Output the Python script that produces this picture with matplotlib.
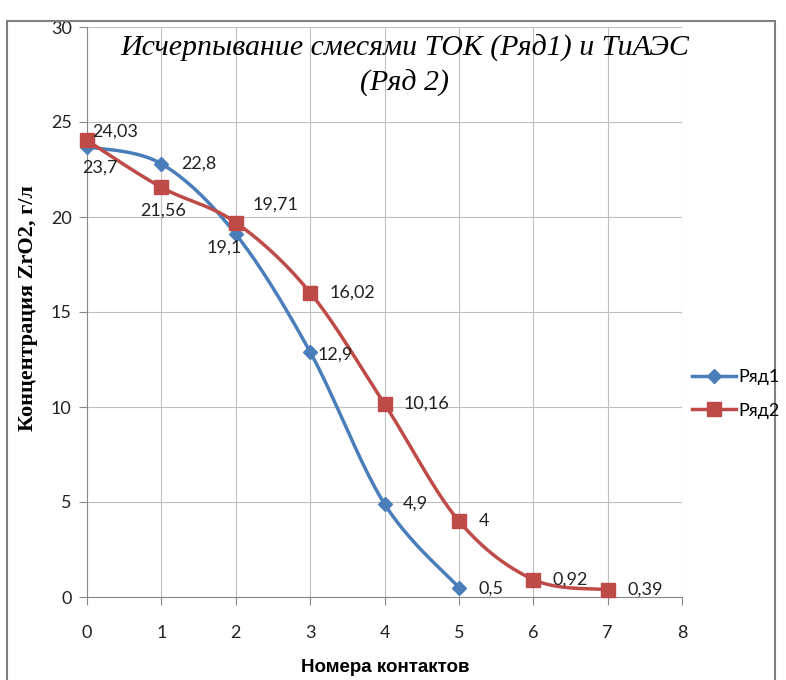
import numpy as np
import matplotlib
matplotlib.use("Agg")
import matplotlib.pyplot as plt
from matplotlib.patches import Rectangle
from matplotlib.lines import Line2D

x1 = [0, 1, 2, 3, 4, 5]
y1 = [23.7, 22.8, 19.1, 12.9, 4.9, 0.5]
labels1 = ["23,7", "22,8", "19,1", "12,9", "4,9", "0,5"]
x2 = [0, 1, 2, 3, 4, 5, 6, 7]
y2 = [24.03, 21.56, 19.71, 16.02, 10.16, 4, 0.92, 0.39]
labels2 = ["24,03", "21,56", "19,71", "16,02", "10,16", "4", "0,92", "0,39"]
series_names = ["Ряд1", "Ряд2"]

blue = "#4A7EBB"
red = "#BE4B48"

def smooth(xs, ys, n=40):
    xs = np.asarray(xs, float); ys = np.asarray(ys, float)
    P = np.column_stack([xs, ys])
    out = []
    for i in range(len(P) - 1):
        p0 = P[i - 1] if i > 0 else P[i]
        p1 = P[i]; p2 = P[i + 1]
        p3 = P[i + 2] if i + 2 < len(P) else P[i + 1]
        c1 = p1 + (p2 - p0) / 6
        c2 = p2 - (p3 - p1) / 6
        t = np.linspace(0, 1, n)[:, None]
        seg = (1 - t) ** 3 * p1 + 3 * (1 - t) ** 2 * t * c1 + 3 * (1 - t) * t ** 2 * c2 + t ** 3 * p2
        out.append(seg if i == 0 else seg[1:])
    s = np.vstack(out)
    return s[:, 0], s[:, 1]

tick_font = ["Lato", "DejaVu Sans"]
fs = 13

fig = plt.figure(figsize=(7.86, 6.8), dpi=100)
ax = fig.add_axes([87/786, 83/680, (682-87)/786, (597-27)/680])

ax.set_xlim(0, 8)
ax.set_ylim(0, 30)
ax.set_xticks(range(0, 9))
ax.set_yticks(range(0, 31, 5))
ax.grid(True, color="#BFBFBF", linewidth=0.8)
ax.set_axisbelow(True)
for s in ["top", "right"]:
    ax.spines[s].set_visible(False)
for s in ["left", "bottom"]:
    ax.spines[s].set_color("#888888")
    ax.spines[s].set_linewidth(0.8)
ax.tick_params(axis="both", colors="#888888", length=6, width=0.8, labelcolor="#222222", labelsize=fs)
ax.tick_params(axis="x", pad=14)
ax.tick_params(axis="y", pad=5)
for lab in ax.get_xticklabels() + ax.get_yticklabels():
    lab.set_family(tick_font)

sx, sy = smooth(x1, y1)
ax.plot(sx, sy, color=blue, lw=2.5, clip_on=False, zorder=3)
ax.plot(x1, y1, ls="none", marker="D", ms=7, color=blue, clip_on=False, zorder=4)
sx, sy = smooth(x2, y2)
ax.plot(sx, sy, color=red, lw=2.5, clip_on=False, zorder=3)
ax.plot(x2, y2, ls="none", marker="s", ms=10, color=red, clip_on=False, zorder=4)

h1 = Line2D([], [], color=blue, lw=2.5, marker="D", ms=7)
h2 = Line2D([], [], color=red, lw=2.5, marker="s", ms=10)
fig.legend([h1, h2], series_names, loc="center left", bbox_to_anchor=(676/786, 1 - 394/680),
           frameon=False, prop={"family": tick_font, "size": fs}, handlelength=2.4,
           handletextpad=0.15, labelspacing=0.95)

off1 = [(9.5, -15, "center"), (14, 0, "left"), (-8, -10, "center"), (5.5, -2, "left"), (13, 0, "left"), (14, -1, "left")]
off2 = [(4, 6, "left"), (1.5, -16.5, "center"), (12, 13, "left"), (14, 0, "left"), (14, 0, "left"), (14, 0, "left"), (14, 0, "left"), (14, 0, "left")]
for x, y, t, (dx, dy, ha) in zip(x1, y1, labels1, off1):
    ax.annotate(t, (x, y), xytext=(dx, dy), textcoords="offset points", ha=ha, va="center",
                fontsize=fs, family=tick_font, color="#222222", zorder=5, annotation_clip=False)
for x, y, t, (dx, dy, ha) in zip(x2, y2, labels2, off2):
    ax.annotate(t, (x, y), xytext=(dx, dy), textcoords="offset points", ha=ha, va="center",
                fontsize=fs, family=tick_font, color="#222222", zorder=5, annotation_clip=False)

fig.text(405/786, 1 - 66/680, "Исчерпывание смесями ТОК (Ряд1) и ТиАЭС\n(Ряд 2)", ha="center", va="center",
         family="Liberation Serif", style="italic", fontsize=21.5, linespacing=1.35)
fig.text(28/786, 1 - 308/680, "Концентрация ZrO2, г/л", rotation=90, ha="center", va="center",
         family="Liberation Serif", weight="bold", fontsize=16)
fig.text(385/786, 1 - 667/680, "Номера контактов", ha="center", va="center",
         family=["Liberation Sans", "DejaVu Sans"], weight="bold", fontsize=13.5)

fig.patches.append(Rectangle((7/786, -0.1), (775-7)/786, 1.1 - 21/680, transform=fig.transFigure,
                             fill=False, edgecolor="#808080", lw=1.5))

fig.savefig("out.png", dpi=100)
